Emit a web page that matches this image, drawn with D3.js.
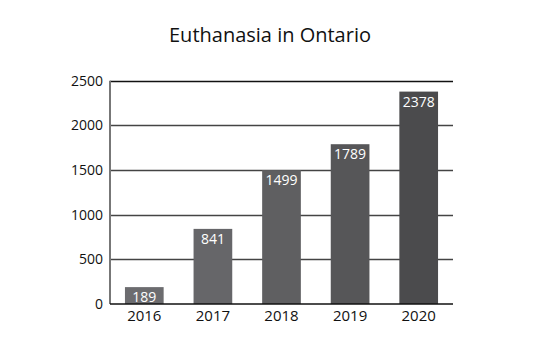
<!DOCTYPE html>
<html><head><meta charset="utf-8">
<script src="https://cdn.jsdelivr.net/npm/d3@7"></script>
<style>body{margin:0;background:#fff;} text{font-family:"Open Sans",sans-serif;}</style>
</head><body>
<svg id="c" width="540" height="360"></svg>
<script>
const title = "Euthanasia in Ontario";
const years = ["2016","2017","2018","2019","2020"];
const counts = [189, 841, 1499, 1789, 2378];
const yTicks = [0, 500, 1000, 1500, 2000, 2500];
const barColors = ["#6c6c6f","#666669","#5f5f61","#565658","#4b4b4d"];

const svg = d3.select("#c");
const m = {left:110, right:87, top:80.7, bottom:56};
const W = 540, H = 360;
const x = d3.scaleBand().domain(years).range([m.left, W - m.right]).paddingInner(0.436).paddingOuter(0.218);
const y = d3.scaleLinear().domain([0, 2500]).range([304, 80.7]);

svg.append("text").attr("x", 270).attr("y", 42).attr("text-anchor","middle")
  .attr("font-size", 20).attr("fill","#111").text(title);

// gridlines
svg.append("g").selectAll("line").data(yTicks.filter(d=>d>0)).join("line")
  .attr("x1", m.left).attr("x2", W - m.right)
  .attr("y1", d=>Math.round(y(d))+0.5).attr("y2", d=>Math.round(y(d))+0.5)
  .attr("stroke", d=> d===2500 ? "#111" : "#444").attr("stroke-width", 1.3);

// bars
svg.append("g").selectAll("rect").data(counts).join("rect")
  .attr("x", (d,i)=>x(years[i])).attr("width", x.bandwidth())
  .attr("y", d=>y(d)).attr("height", d=>y(0)-y(d))
  .attr("fill", (d,i)=>barColors[i]);

// value labels
svg.append("g").selectAll("text").data(counts).join("text")
  .attr("x", (d,i)=>x(years[i]) + x.bandwidth()/2)
  .attr("y", d=>y(d)+15).attr("text-anchor","middle")
  .attr("font-size", 14).attr("fill","#fff").text(d=>d);

// left axis line
svg.append("line").attr("x1", m.left).attr("x2", m.left).attr("y1", y(2500)).attr("y2", y(0))
  .attr("stroke","#777").attr("stroke-width",2);
// baseline
svg.append("line").attr("x1", m.left).attr("x2", W - m.right).attr("y1", y(0)).attr("y2", y(0))
  .attr("stroke","#111").attr("stroke-width",1.3);

// y tick labels
svg.append("g").selectAll("text").data(yTicks).join("text")
  .attr("x", 103).attr("y", d=>y(d)+5).attr("text-anchor","end")
  .attr("font-size", 14).attr("fill","#111").text(d=>d);

// x labels
svg.append("g").selectAll("text").data(years).join("text")
  .attr("x", d=>x(d)+x.bandwidth()/2).attr("y", 321).attr("text-anchor","middle")
  .attr("font-size", 15).attr("fill","#111").text(d=>d);
</script>
</body></html>
